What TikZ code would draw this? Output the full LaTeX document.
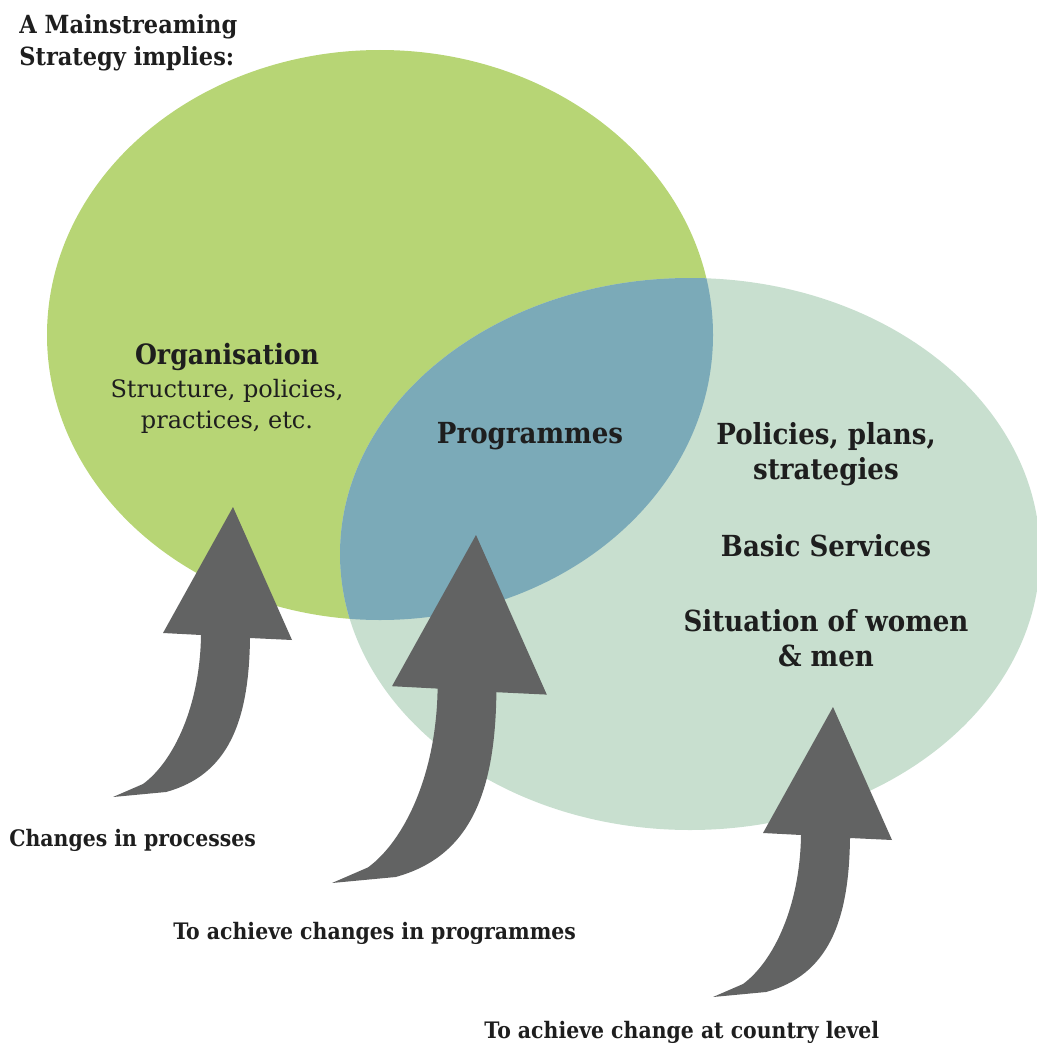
\documentclass[tikz,border=0pt]{standalone}
\usepackage{fontspec}
\setmainfont{DejaVu Serif}[BoldFeatures={FakeStretch=0.9}]

\definecolor{orggreen}{RGB}{183,213,117}
\definecolor{countrymint}{RGB}{200,223,207}
\definecolor{progblue}{RGB}{123,170,184}
\definecolor{arrowgrey}{RGB}{98,99,99}
\definecolor{inkblack}{RGB}{30,30,30}

\tikzset{every picture/.style={line width=0.75pt}}
\tikzset{
  bigbold/.style={inner sep=0pt, text=inkblack, align=center, font=\fontsize{29}{35}\selectfont\bfseries},
  bodytext/.style={inner sep=0pt, text=inkblack, align=center, font=\fontsize{24}{31}\selectfont},
  smallbold/.style={inner sep=0pt, text=inkblack, anchor=west, font=\fontsize{22.7}{27}\selectfont\bfseries},
  uparrow/.pic={
    \fill[arrowgrey, yscale=-1] (0,0) -- (59,133) -- (17,131)
      .. controls (16,215) and (-5,268) .. (-67,285)
      -- (-120,290) -- (-90,277)
      .. controls (-60,255) and (-33,200) .. (-32,128)
      -- (-70,126) -- cycle ;
  }
}

\begin{document}
\begin{tikzpicture}[x=1pt,y=1pt,yscale=-1,xscale=1]
\useasboundingbox (0,0) rectangle (1036,1046);

%Shape: Ellipse [organisation]
\fill[orggreen] (380,335) ellipse (333 and 285);
%Shape: Ellipse [country level]
\fill[countrymint] (690,554) ellipse (350 and 276);
%Shape: overlap [programmes]
\begin{scope}
  \clip (380,335) ellipse (333 and 285);
  \fill[progblue] (690,554) ellipse (350 and 276);
\end{scope}

%Shape: Curved arrows
\pic at (233,507) {uparrow};
\pic[scale=1.2] at (476,535) {uparrow};
\pic at (833,707) {uparrow};

% Text Node
\node[smallbold, align=left, font=\fontsize{25}{32}\selectfont\bfseries] (strategy) at (19,43) {A Mainstreaming\\Strategy implies:};
% Text Node
\node[bigbold, font=\fontsize{28}{34}\selectfont\bfseries] (organisation) at (227,357) {Organisation};
% Text Node
\node[bodytext] (orgdetail) at (227,406) {Structure, policies,\\practices, etc.};
% Text Node
\node[bigbold] (programmes) at (530,436) {Programmes};
% Text Node
\node[bigbold] (policies) at (826,454) {Policies, plans,\\strategies};
% Text Node
\node[bigbold] (services) at (826,546) {Basic Services};
% Text Node
\node[bigbold] (situation) at (826,638) {Situation of women\\\& men};
% Text Node
\node[smallbold] (processes) at (9,840) {Changes in processes};
% Text Node
\node[smallbold] (progchange) at (173,933) {To achieve changes in programmes};
% Text Node
\node[smallbold] (countrychange) at (484,1032) {To achieve change at country level};

\end{tikzpicture}
\end{document}
